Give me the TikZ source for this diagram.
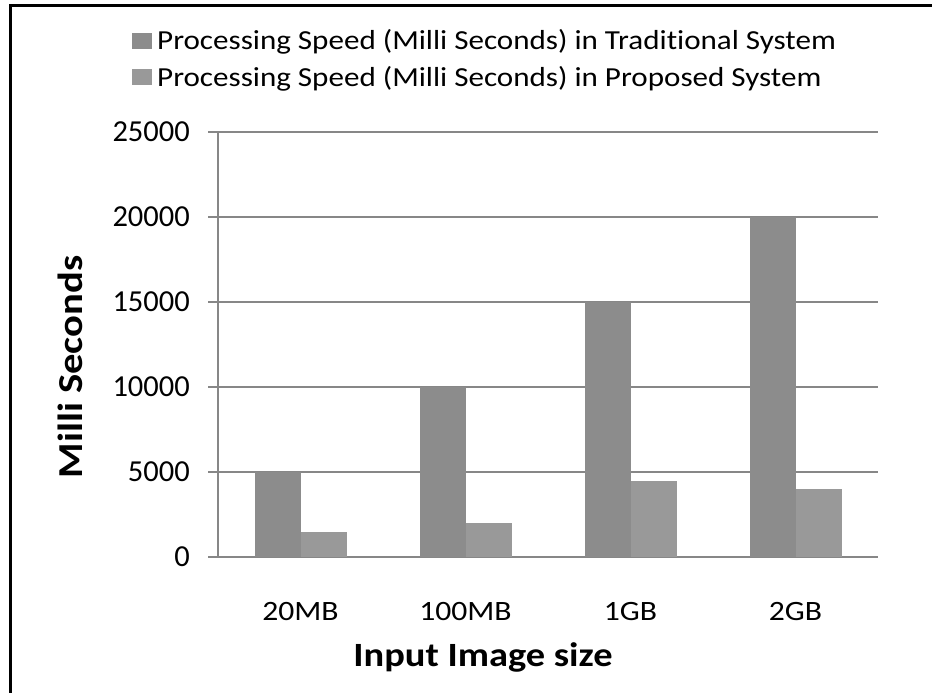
\documentclass[tikz,border=0pt]{standalone}
\usepackage{fontspec}
\setmainfont{Carlito}
\newfontfamily\widefont[FakeStretch=1.13, Ligatures=NoCommon]{Carlito}
\newfontfamily\widerfont[FakeStretch=1.16, Ligatures=NoCommon]{Carlito}
\usetikzlibrary{positioning}
\definecolor{tradgray}{HTML}{8C8C8C}
\definecolor{propgray}{HTML}{999999}
\definecolor{gridgray}{HTML}{878787}

\begin{document}
\begin{tikzpicture}[x=1pt, y=-1pt,
    gridline/.style={draw=gridgray, line width=1.6pt},
    tradbar/.style={fill=tradgray},
    propbar/.style={fill=propgray},
    ticklabel/.style={anchor=east, font=\fontsize{30.5}{30.5}\selectfont, inner sep=0},
    catlabel/.style={font=\widefont\fontsize{28}{28}\selectfont, inner sep=0},
    axistitle/.style={font=\widefont\fontsize{34}{34}\selectfont\bfseries, inner sep=0},
    legendkey/.style={minimum width=20pt, minimum height=16pt, inner sep=0},
    legendtext/.style={font=\widefont\fontsize{27.5}{27.5}\selectfont, anchor=base west, inner sep=0}]
  \useasboundingbox[fill=white] (0,0) rectangle (932,693);
  % frame, top and left only
  \draw[line width=3.5pt] (10.5,693) -- (10.5,5.5) -- (932,5.5);
  % grid and value labels (one step = 5000 ms = 85pt)
  \foreach \v [count=\k from 0] in {0,5000,10000,15000,20000,25000} {
    \draw[gridline] (208,557-\k*85) -- (878,557-\k*85);
    \node[ticklabel] (tick\k) at (190,557-\k*85) {\v};
  }
  \draw[gridline] (218,133) -- (218,557);
  % bars, heights in thousands of ms
  \foreach \name/\trad/\prop [count=\i] in {20MB/5/1.5,100MB/10/2,1GB/15/4.5,2GB/20/4} {
    \pgfmathsetmacro{\cx}{218+165*(\i-0.5)}
    \fill[tradbar] (\cx-46,557-\trad*17) rectangle (\cx,557);
    \fill[propbar] (\cx,557-\prop*17) rectangle (\cx+46,557);
    \node[catlabel] (cat\i) at (\cx,612) {\name};
  }
  % axis titles
  \node[axistitle] (xtitle) at (483,657) {Input Image size};
  \node[axistitle, font=\widerfont\fontsize{35}{35}\selectfont\bfseries, rotate=90] (ytitle) at (70,367) {Milli Seconds};
  % legend
  \node[legendkey, fill=tradgray] (key1) at (142,41) {};
  \node[legendkey, fill=propgray] (key2) at (142,77) {};
  \node[legendtext] (leg1) at (157,50) {Processing Speed (Milli Seconds) in Traditional System};
  \node[legendtext] (leg2) at (157,86) {Processing Speed (Milli Seconds) in Proposed System};
\end{tikzpicture}
\end{document}
